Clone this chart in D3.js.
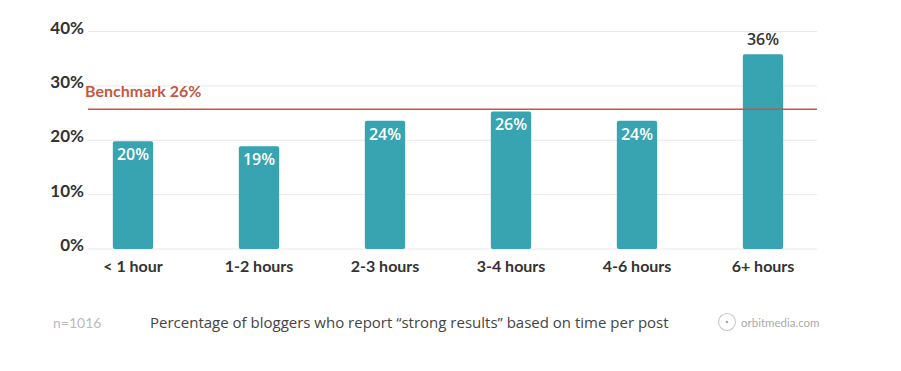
<!DOCTYPE html>
<html>
<head>
<script src="https://d3js.org/d3.v7.min.js"></script>
<style>
body { margin: 0; background: #fff; }
.axis text { font-family: Lato, sans-serif; font-size: 17px; font-weight: 700; fill: #333; }
.axis path, .axis line { display: none; }
</style>
</head>
<body>
<div id="canvas"></div>
<script>
var categories = ["< 1 hour", "1-2 hours", "2-3 hours", "3-4 hours", "4-6 hours", "6+ hours"];
var values = [19.8, 18.9, 23.6, 25.3, 23.6, 35.8];
var valueLabels = ["20%", "19%", "24%", "26%", "24%", "36%"];
var yTicks = [0, 10, 20, 30, 40];
var benchmark = 25.7;
var benchmarkLabel = "Benchmark 26%";

var width = 901, height = 371;
var svg = d3.select("#canvas").append("svg")
    .attr("width", width).attr("height", height);

var x = d3.scaleBand().domain(categories).range([70, 826]).paddingInner(0.68).paddingOuter(0.34);
var y = d3.scaleLinear().domain([0, 40]).range([249, 31.5]);

// grid
svg.append("g").selectAll("line").data(yTicks).enter().append("line")
    .attr("x1", 88).attr("x2", 817)
    .attr("y1", function(d) { return y(d); }).attr("y2", function(d) { return y(d); })
    .attr("stroke", "#e9e9e9").attr("stroke-width", 1);

var yAxis = svg.append("g").attr("class", "axis")
    .attr("transform", "translate(84,0)")
    .call(d3.axisLeft(y).tickValues(yTicks).tickSize(0).tickPadding(0).tickFormat(function(d) { return d + "%"; }));
yAxis.selectAll("text").attr("dy", "0.1em");

// bars
var bars = svg.append("g").selectAll("g").data(categories).enter().append("g");
bars.append("rect")
    .attr("x", function(d) { return x(d); })
    .attr("width", x.bandwidth())
    .attr("y", function(d, i) { return y(values[i]); })
    .attr("height", function(d, i) { return y(0) - y(values[i]); })
    .attr("rx", 2)
    .attr("fill", "#38a3b1");

bars.append("text")
    .attr("x", function(d) { return x(d) + x.bandwidth() / 2; })
    .attr("y", function(d, i) { return i === 5 ? y(values[i]) - 9 : y(values[i]) + 19; })
    .attr("text-anchor", "middle")
    .attr("font-family", "'Open Sans', sans-serif")
    .attr("font-size", 16)
    .attr("font-weight", 600)
    .attr("fill", function(d, i) { return i === 5 ? "#333" : "#fff"; })
    .text(function(d, i) { return valueLabels[i]; });

// benchmark
svg.append("line")
    .attr("x1", 88).attr("x2", 817)
    .attr("y1", y(benchmark)).attr("y2", y(benchmark))
    .attr("stroke", "#c9553c").attr("stroke-width", 1.5);
svg.append("text")
    .attr("x", 85).attr("y", 97)
    .attr("font-family", "Lato, sans-serif").attr("font-size", 16).attr("font-weight", 700)
    .attr("fill", "#c4573f")
    .text(benchmarkLabel);

// x labels
var xAxis = svg.append("g").attr("class", "axis")
    .attr("transform", "translate(0,249)")
    .call(d3.axisBottom(x).tickSize(0).tickPadding(12));
xAxis.selectAll("text").style("font-size", "16px");

// footer
svg.append("text").attr("x", 53).attr("y", 328)
    .attr("font-family", "Lato, sans-serif").attr("font-size", 14).attr("fill", "#bbb")
    .text("n=1016");
svg.append("text").attr("x", 150).attr("y", 328)
    .attr("font-family", "'Open Sans', sans-serif").attr("font-size", 15).attr("fill", "#444")
    .text("Percentage of bloggers who report \u201cstrong results\u201d based on time per post");
svg.append("circle").attr("cx", 727).attr("cy", 322).attr("r", 8.5)
    .attr("fill", "none").attr("stroke", "#ccc").attr("stroke-width", 1.2);
svg.append("circle").attr("cx", 727).attr("cy", 322).attr("r", 1.3).attr("fill", "#aaa");
svg.append("text").attr("x", 741).attr("y", 327)
    .attr("font-family", "Lato, sans-serif").attr("font-size", 11.5).attr("fill", "#aaa")
    .text("orbitmedia.com");
</script>
</body>
</html>
